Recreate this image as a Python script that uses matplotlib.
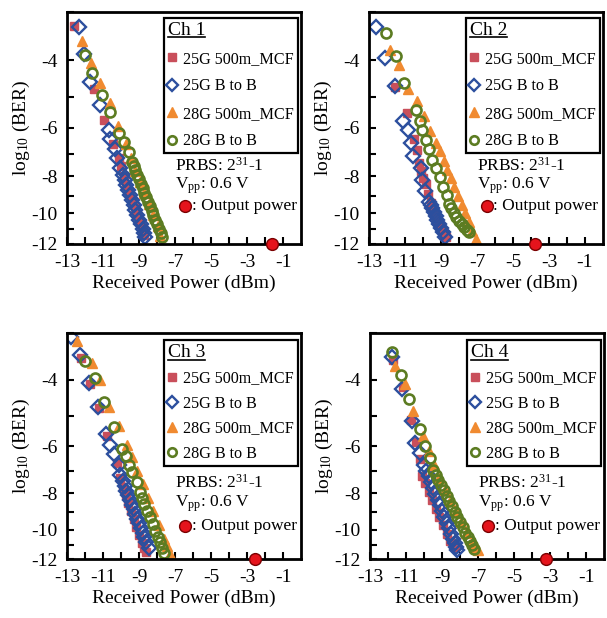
import matplotlib.pyplot as plt
import numpy as np
from matplotlib.ticker import FixedLocator, NullFormatter, FuncFormatter
from matplotlib.lines import Line2D

plt.rcParams['font.family'] = ['Liberation Serif', 'DejaVu Serif']
plt.rcParams['mathtext.fontset'] = 'custom'
plt.rcParams['mathtext.rm'] = 'Liberation Serif'
plt.rcParams['mathtext.it'] = 'Liberation Serif:italic'
plt.rcParams['axes.unicode_minus'] = False

# ---- Ch 1 ----
ch1_25g_mcf_x = [-12.6, -11.52, -10.96, -10.45, -10.13, -10.0, -9.85, -9.7, -9.55, -9.4, -9.25, -9.1, -8.95, -8.8, -8.72]
ch1_25g_mcf_y = [-3.27, -4.75, -5.71, -6.6, -7.2, -7.55, -8.0, -8.45, -8.8, -9.2, -9.62, -10.05, -10.5, -11.0, -11.35]
ch1_25g_b2b_x = [-12.35, -12.07, -11.7, -11.19, -10.69, -10.59, -10.31, -10.22, -10.04, -9.9, -9.8, -9.7, -9.6,
                 -9.5, -9.4, -9.3, -9.2, -9.1, -9.0, -8.9, -8.8, -8.72, -8.65]
ch1_25g_b2b_y = [-3.29, -3.85, -4.55, -5.22, -6.09, -6.39, -6.79, -7.2, -7.63, -7.95, -8.19, -8.44, -8.68,
                 -8.95, -9.21, -9.49, -9.77, -10.07, -10.37, -10.67, -11.0, -11.26, -11.5]
ch1_28g_mcf_x = [-12.17, -11.67, -11.15, -10.63, -10.19, -9.75, -9.45, -9.2, -8.95, -8.7, -8.45, -8.2, -7.95, -7.81]
ch1_28g_mcf_y = [-3.56, -4.07, -4.59, -5.18, -5.92, -6.6, -7.2, -7.75, -8.3, -8.85, -9.45, -10.1, -10.8, -11.45]
ch1_28g_b2b_x = [-11.98, -11.61, -11.06, -10.59, -10.13, -9.85, -9.57, -9.39, -9.3, -9.2, -9.1, -9.0, -8.9, -8.8,
                 -8.7, -8.6, -8.5, -8.4, -8.3, -8.2, -8.1, -8.0, -7.9, -7.8, -7.72]
ch1_28g_b2b_y = [-3.87, -4.33, -4.94, -5.45, -6.18, -6.53, -6.92, -7.34, -7.52, -7.72, -7.93, -8.15, -8.37, -8.6,
                 -8.84, -9.08, -9.33, -9.58, -9.84, -10.11, -10.39, -10.67, -10.96, -11.26, -11.5]

# ---- Ch 2 ----
ch2_25g_mcf_x = [-11.56, -10.87, -10.5, -10.31, -10.22, -10.13, -9.98, -9.85, -9.7, -9.55, -9.4, -9.25, -9.1, -8.95, -8.85, -8.74]
ch2_25g_mcf_y = [-4.7, -5.47, -6.4, -6.85, -7.41, -7.78, -8.1, -8.41, -8.9, -9.4, -9.85, -10.3, -10.7, -11.05, -11.3, -11.5]
ch2_25g_b2b_x = [-12.59, -12.11, -11.56, -11.09, -10.81, -10.69, -10.54, -10.13, -10.04, -9.89, -9.67, -9.58, -9.5,
                 -9.4, -9.3, -9.2, -9.1, -9.0, -8.9, -8.78]
ch2_25g_b2b_y = [-3.28, -3.94, -4.66, -5.75, -6.09, -6.55, -7.08, -7.6, -8.21, -8.75, -9.31, -9.5, -9.69,
                 -9.93, -10.17, -10.42, -10.66, -10.92, -11.18, -11.5]
ch2_28g_mcf_x = [-11.85, -11.33, -10.81, -10.31, -9.95, -9.6, -9.3, -9.05, -8.85, -8.65, -8.46, -8.25, -8.05, -7.85,
                 -7.65, -7.45, -7.25, -7.04]
ch2_28g_mcf_y = [-3.76, -4.12, -4.76, -5.11, -5.6, -6.1, -6.55, -6.9, -7.3, -7.7, -8.09, -8.55, -9.0, -9.5,
                 -10.0, -10.55, -11.1, -11.68]
ch2_28g_b2b_x = [-12.04, -11.52, -11.06, -10.41, -10.19, -10.04, -9.85, -9.67, -9.48, -9.3, -9.06, -8.89, -8.69, -8.56,
                 -8.43, -8.3, -8.15, -8.0, -7.85, -7.7, -7.56, -7.44]
ch2_28g_b2b_y = [-3.41, -3.91, -4.59, -5.39, -5.75, -6.09, -6.46, -6.81, -7.26, -7.63, -8.06, -8.54, -8.96, -9.45,
                 -9.7, -9.98, -10.22, -10.46, -10.66, -10.86, -11.02, -11.17]

# ---- Ch 3 ----
ch3_25g_mcf_x = [-12.22, -11.74, -11.24, -10.78, -10.22, -10.05, -9.9, -9.75, -9.6, -9.45, -9.3, -9.15, -9.0, -8.85, -8.7, -8.59]
ch3_25g_mcf_y = [-3.5, -4.1, -4.76, -5.63, -6.66, -7.3, -7.7, -8.1, -8.5, -8.95, -9.4, -9.85, -10.35, -10.85, -11.2, -11.45]
ch3_25g_b2b_x = [-12.78, -12.3, -11.8, -11.3, -10.81, -10.63, -10.41, -10.13, -10.04, -9.9, -9.8, -9.7, -9.6, -9.5,
                 -9.4, -9.3, -9.2, -9.1, -9.0, -8.9, -8.8, -8.7, -8.6, -8.46]
ch3_25g_b2b_y = [-3.07, -3.43, -4.08, -4.71, -5.57, -5.96, -6.29, -6.73, -7.16, -7.42, -7.66, -7.88, -8.11, -8.34,
                 -8.58, -8.83, -9.09, -9.35, -9.62, -9.9, -10.19, -10.49, -10.79, -11.22]
ch3_28g_mcf_x = [-12.44, -11.61, -11.15, -10.69, -10.13, -9.67, -9.4, -9.1, -8.8, -8.5, -8.2, -7.9, -7.6, -7.45, -7.26]
ch3_28g_mcf_y = [-3.16, -3.61, -4.0, -4.71, -5.32, -5.96, -6.41, -6.97, -7.57, -8.24, -8.95, -9.73, -10.58, -11.05, -11.62]
ch3_28g_b2b_x = [-11.98, -11.43, -10.96, -10.41, -9.94, -9.7, -9.57, -9.39, -9.11, -8.96, -8.83, -8.7, -8.55, -8.4,
                 -8.25, -8.1, -7.97, -7.85, -7.74, -7.63]
ch3_28g_b2b_y = [-3.57, -3.96, -4.59, -5.34, -6.11, -6.37, -6.73, -7.05, -7.46, -7.93, -8.22, -8.53, -8.9, -9.28,
                 -9.68, -10.09, -10.45, -10.82, -11.17, -11.53]

# ---- Ch 4 ----
ch4_25g_mcf_x = [-11.74, -11.15, -10.7, -10.45, -10.25, -10.13, -9.95, -9.75, -9.55, -9.35, -9.15, -8.95, -8.75, -8.55, -8.4, -8.28]
ch4_25g_mcf_y = [-3.55, -4.17, -5.1, -5.85, -6.5, -7.22, -7.5, -7.95, -8.35, -8.8, -9.25, -9.75, -10.25, -10.7, -10.9, -11.11]
ch4_25g_b2b_x = [-11.8, -11.24, -10.69, -10.5, -10.22, -10.0, -9.88, -9.75, -9.62, -9.5, -9.38, -9.25, -9.12, -9.0,
                 -8.88, -8.75, -8.62, -8.5, -8.4, -8.3, -8.22, -8.15]
ch4_25g_b2b_y = [-3.47, -4.23, -5.13, -5.89, -6.27, -6.73, -6.97, -7.22, -7.48, -7.75, -8.03, -8.32, -8.62, -8.92,
                 -9.25, -9.58, -9.92, -10.27, -10.57, -10.87, -11.1, -11.33]
ch4_28g_mcf_x = [-11.61, -11.06, -10.63, -10.04, -9.75, -9.45, -9.15, -8.85, -8.55, -8.25, -7.95, -7.65, -7.35, -7.15, -6.98]
ch4_28g_mcf_y = [-3.68, -4.1, -4.85, -5.63, -6.2, -6.75, -7.3, -7.85, -8.4, -8.95, -9.55, -10.2, -10.85, -11.1, -11.33]
ch4_28g_b2b_x = [-11.8, -11.3, -10.81, -10.22, -9.94, -9.67, -9.48, -9.35, -9.2, -9.05, -8.9, -8.75, -8.6, -8.45,
                 -8.3, -8.15, -8.0, -7.85, -7.7, -7.57, -7.45, -7.33, -7.22]
ch4_28g_b2b_y = [-3.38, -3.88, -4.5, -5.41, -5.99, -6.46, -6.94, -7.15, -7.38, -7.62, -7.87, -8.13, -8.4, -8.68,
                 -8.96, -9.25, -9.55, -9.87, -10.19, -10.47, -10.75, -11.02, -11.29]

channel_names = ['Ch 1', 'Ch 2', 'Ch 3', 'Ch 4']
series_labels = ['25G 500m_MCF', '25G B to B', '28G 500m_MCF', '28G B to B']
output_power = [-1.6, -3.75, -2.55, -3.25]
x_ticks = [-13, -11, -9, -7, -5, -3, -1]
y_ticks = [-12, -10, -8, -6, -4]

all_series = [
    [(ch1_25g_mcf_x, ch1_25g_mcf_y), (ch1_25g_b2b_x, ch1_25g_b2b_y), (ch1_28g_mcf_x, ch1_28g_mcf_y), (ch1_28g_b2b_x, ch1_28g_b2b_y)],
    [(ch2_25g_mcf_x, ch2_25g_mcf_y), (ch2_25g_b2b_x, ch2_25g_b2b_y), (ch2_28g_mcf_x, ch2_28g_mcf_y), (ch2_28g_b2b_x, ch2_28g_b2b_y)],
    [(ch3_25g_mcf_x, ch3_25g_mcf_y), (ch3_25g_b2b_x, ch3_25g_b2b_y), (ch3_28g_mcf_x, ch3_28g_mcf_y), (ch3_28g_b2b_x, ch3_28g_b2b_y)],
    [(ch4_25g_mcf_x, ch4_25g_mcf_y), (ch4_25g_b2b_x, ch4_25g_b2b_y), (ch4_28g_mcf_x, ch4_28g_mcf_y), (ch4_28g_b2b_x, ch4_28g_b2b_y)],
]

styles = [
    dict(marker='s', ms=6.2, mfc='#c94f5b', mec='#c94f5b', mew=1),
    dict(marker='D', ms=6.8, mfc='none', mec='#2c4f9e', mew=1.7),
    dict(marker='^', ms=7.8, mfc='#f08a30', mec='#f08a30', mew=1),
    dict(marker='o', ms=7.2, mfc='none', mec='#5c7c22', mew=1.9),
]


# BER axis: -log10(BER) on a log scale
def fwd(y):
    y = np.asarray(y, dtype=float)
    return -np.log10(np.clip(-y, 1e-9, None))


def inv(t):
    return -np.power(10.0, -np.asarray(t, dtype=float))


fig = plt.figure(figsize=(6.07, 6.18), dpi=100)
positions = [[0.1104, 0.6052, 0.3855, 0.3754],
             [0.6079, 0.6052, 0.3855, 0.3754],
             [0.1104, 0.0950, 0.3855, 0.3662],
             [0.6096, 0.0950, 0.3855, 0.3662]]
# per-row layout of legend / notes (top row, bottom row)
leg_top = [0.974, 0.974, 0.967, 0.967]
leg_space = [0.72, 0.72, 0.56, 0.56]
note_y = [(0.336, 0.252, 0.164), (0.336, 0.252, 0.164),
          (0.336, 0.245, 0.147), (0.336, 0.245, 0.147)]

legends = []
for i, pos in enumerate(positions):
    ax = fig.add_axes(pos)
    for (xs, ys), lab, st in zip(all_series[i], series_labels, styles):
        ax.plot(xs, ys, ls='none', label=lab, **st)
    ax.plot(output_power[i], -12, 'o', ms=8.5, mfc='#e5141c', mec='#7a0000', mew=1,
            clip_on=False, zorder=6)

    ax.set_yscale('function', functions=(fwd, inv))
    ax.set_xlim(-13, 0)
    ax.set_ylim(-12, -3)
    ax.xaxis.set_major_locator(FixedLocator(x_ticks))
    ax.xaxis.set_minor_locator(FixedLocator([-12, -10, -8, -6, -4, -2]))
    ax.yaxis.set_major_locator(FixedLocator(y_ticks))
    ax.yaxis.set_minor_locator(FixedLocator([-11, -9, -7, -5, -3]))
    ax.yaxis.set_major_formatter(FuncFormatter(lambda v, p: '%d' % round(v)))
    ax.yaxis.set_minor_formatter(NullFormatter())
    ax.xaxis.set_major_formatter(FuncFormatter(lambda v, p: '%d' % round(v)))
    ax.tick_params(which='both', direction='in', length=5, width=1.5,
                   top=False, right=False, labelsize=14)
    ax.tick_params(axis='x', which='major', pad=7)
    ax.tick_params(axis='y', which='major', pad=7)
    for sp in ax.spines.values():
        sp.set_linewidth(2)

    ax.set_xlabel('Received Power (dBm)', fontsize=14, labelpad=3)
    ax.set_ylabel('log$_{10}$ (BER)', fontsize=14, labelpad=-1)

    leg = ax.legend(loc='upper right', bbox_to_anchor=(0.987, leg_top[i]), borderaxespad=0,
                    fancybox=False, edgecolor='black', framealpha=1, fontsize=11.6,
                    title=channel_names[i], title_fontsize=14, alignment='left',
                    handlelength=0.5, handletextpad=0.45, labelspacing=leg_space[i],
                    borderpad=0.25, markerscale=0.85)
    leg.get_frame().set_linewidth(1.6)
    legends.append(leg)

    y1, y2, y3 = note_y[i]
    ax.text(0.462, y1, 'PRBS: 2$^{31}$-1', transform=ax.transAxes, fontsize=12.5, va='center')
    ax.text(0.462, y2, 'V$_{\\mathrm{pp}}$: 0.6 V', transform=ax.transAxes, fontsize=12.5, va='center')
    ax.plot(0.505, y3, 'o', transform=ax.transAxes, ms=8.5, mfc='#e5141c', mec='#7a0000', mew=1)
    ax.text(0.532, y3, ': Output power', transform=ax.transAxes, fontsize=12.5, va='center')

# underline legend titles
fig.canvas.draw()
r = fig.canvas.get_renderer()
for leg in legends:
    bb = leg.get_title().get_window_extent(r).transformed(fig.transFigure.inverted())
    fig.add_artist(Line2D([bb.x0, bb.x1], [bb.y0 + 0.003, bb.y0 + 0.003], color='black', lw=1.2,
                          transform=fig.transFigure))

fig.savefig('out.png', dpi=100)
plt.close(fig)
